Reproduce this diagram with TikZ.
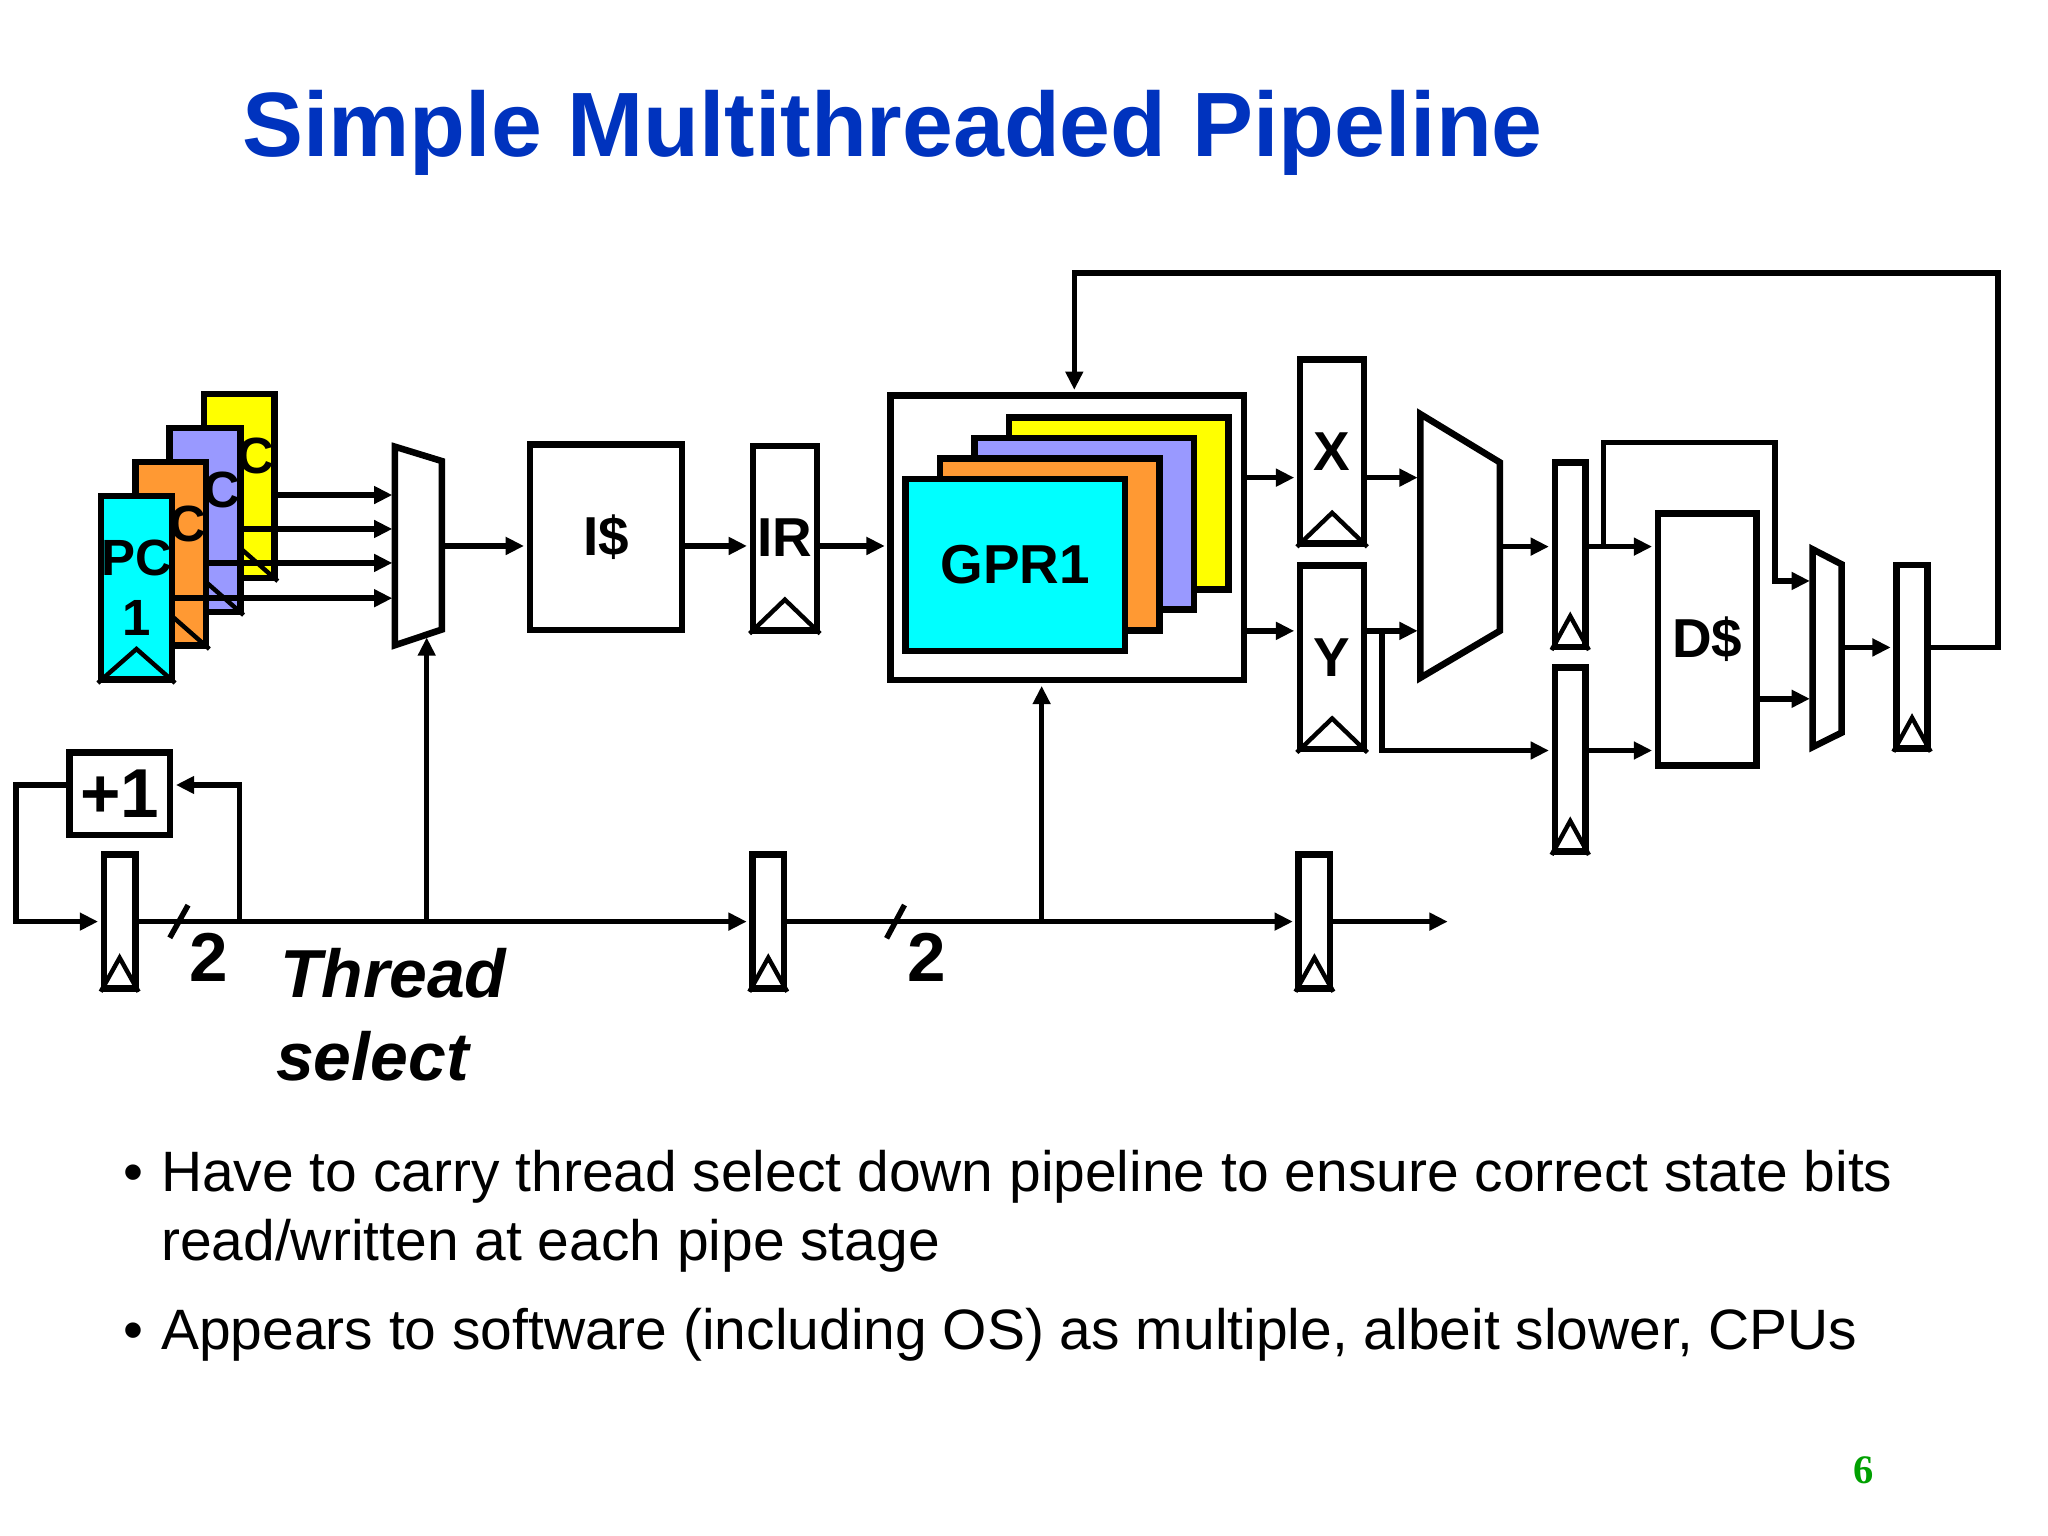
\documentclass[tikz,border=0pt]{standalone}
\usepackage{fontspec}
\setmainfont{Liberation Sans}
\newfontfamily\pnfont{Liberation Serif}
\usetikzlibrary{arrows.meta}
\definecolor{titleblue}{RGB}{0,51,190}
\definecolor{pgreen}{RGB}{0,160,0}
\definecolor{pccyan}{RGB}{0,255,255}
\definecolor{pcorange}{RGB}{255,153,51}
\definecolor{pcblue}{RGB}{153,153,255}
\definecolor{pcyellow}{RGB}{255,255,0}
\newcommand\clkmark[1]{\draw[clk] (#1.south west) -- ([yshift=13pt]#1.south) -- (#1.south east);}
\begin{document}
\begin{tikzpicture}[x=0.5pt,y=-0.5pt,
  box/.style={draw, line width=2.5pt, fill=white, inner sep=0pt, font=\fontsize{21}{25}\selectfont\bfseries},
  pcreg/.style={box, minimum width=25pt, minimum height=70.4pt, align=center, font=\fontsize{19.5}{23}\selectfont\bfseries},
  xreg/.style={box, minimum width=24.5pt, minimum height=70.4pt},
  nreg/.style={box, minimum width=11.8pt, minimum height=70.5pt},
  treg/.style={box, minimum width=12pt, minimum height=51.2pt},
  gprbox/.style={box, minimum width=84.1pt, minimum height=65.75pt},
  muxshape/.style={draw, line width=2.5pt, fill=white, line join=miter},
  wire/.style={line width=2.1pt},
  arr/.style={wire, -{Triangle[length=7pt,width=6.5pt]}, shorten >=1pt},
  clk/.style={line width=1.7pt},
  lbl/.style={inner sep=0pt, font=\fontsize{26.5}{30}\selectfont\bfseries},
  tsel/.style={inner sep=0pt, anchor=base west, font=\fontsize{26}{30}\selectfont\bfseries\itshape},
  bullet/.style={inner sep=0pt, anchor=base west, font=\fontsize{21.8}{26}\selectfont},
  bdot/.style={inner sep=0pt, anchor=base, font=\fontsize{21.8}{26}\selectfont}
]
\fill[white] (0,0) rectangle (1568,1176);
\useasboundingbox (0,0) rectangle (1568,1176);

% title
\node[anchor=base west, inner sep=0pt, text=titleblue, font=\fontsize{35}{42}\selectfont\bfseries] (title) at (185,119.5) {Simple Multithreaded Pipeline};

% PC stack (back to front)
\foreach \i/\c/\x/\y in {4/pcyellow/183.1/372, 3/pcblue/156.9/398, 2/pcorange/130.7/424} {
  \node[pcreg, fill=\c] (pc\i) at (\x,\y) {PC\\\phantom{1}};
  \clkmark{pc\i}
}
\node[pcreg, fill=pccyan] (pc1) at (104.5,450) {PC\\1};
\clkmark{pc1}

% mux 1
\draw[muxshape] (302.4,342) -- (338.3,353) -- (338.3,482) -- (302.4,494) -- cycle;
\coordinate (m1a) at (302.4,379);
\coordinate (m1b) at (302.4,405);
\coordinate (m1c) at (302.4,431);
\coordinate (m1d) at (302.4,458);
\coordinate (m1out) at (338.3,418);
\coordinate (sel1) at (326.7,486);

% I$ and IR
\node[box, minimum width=58.2pt, minimum height=71pt] (icache) at (463.9,411.4) {I\$};
\node[xreg, minimum height=70.6pt] (ir) at (600.9,412) {IR};
\clkmark{ir}

% GPR
\node[box, minimum width=135.35pt, minimum height=108.8pt] (gpr) at (817.25,411.8) {};
\node[gprbox, fill=pcyellow] (gpr4) at (856.5,385.4) {};
\node[gprbox, fill=pcblue] (gpr3) at (830.1,401.1) {};
\node[gprbox, fill=pcorange] (gpr2) at (803.7,416.8) {};
\node[gprbox, fill=pccyan] (gpr1) at (777.3,432.5) {GPR1};

% X, Y
\node[xreg] (xr) at (1019.9,345.75) {X};
\clkmark{xr}
\node[xreg] (yr) at (1019.9,503.2) {Y};
\clkmark{yr}

% ALU
\draw[muxshape] (1087.4,317) -- (1148.3,354) -- (1148.3,483) -- (1087.4,519) -- cycle;
\coordinate (aluX) at (1087.4,365.7);
\coordinate (aluY) at (1087.4,483);
\coordinate (aluout) at (1148.3,418.5);

% pipeline regs after ALU
\node[nreg] (upreg) at (1202.2,424.7) {};
\clkmark{upreg}
\node[nreg] (lowreg) at (1202.2,581.55) {};
\clkmark{lowreg}

% D$
\node[box, minimum width=37.6pt, minimum height=96.4pt] (dcache) at (1307,489.7) {D\$};

% mux 2
\draw[muxshape] (1387.7,420.5) -- (1409.9,432) -- (1409.9,561) -- (1387.7,572) -- cycle;
\coordinate (m2a) at (1387.7,444.8);
\coordinate (m2b) at (1387.7,535);
\coordinate (m2out) at (1409.9,495.7);

% last reg
\node[nreg, minimum height=70.2pt] (lastreg) at (1463.9,502.85) {};
\clkmark{lastreg}

% thread select path
\node[box, minimum width=38.4pt, minimum height=31.65pt, font=\fontsize{26.5}{30}\selectfont\bfseries] (plus) at (91.8,607.75) {+1};
\node[treg] (r1) at (91.6,705.6) {};
\clkmark{r1}
\node[treg] (r2) at (588.2,705.6) {};
\clkmark{r2}
\node[treg] (r3) at (1006.35,705.6) {};
\clkmark{r3}

% row coordinates
\coordinate (rowX) at (0,365.7);
\coordinate (rowY) at (0,483);
\coordinate (rowAlu) at (0,418.5);
\coordinate (rowLow) at (0,574.6);
\coordinate (rowD) at (0,535);
\coordinate (rowOut) at (0,495.7);
\coordinate (loopy) at (0,601);
\coordinate (lft) at (12.3,601);
\coordinate (br1) at (183.2,705.6);
\coordinate (br2) at (797.5,705.6);
\coordinate (tsend) at (1110.4,705.6);
\coordinate (ybr) at (1058,483);
\coordinate (byp) at (1227.6,418.5);
\coordinate (bypc) at (1359,338.9);
\coordinate (fbc) at (1529.8,209);
\coordinate (fbin) at (822.5,303);

% PC -> mux1
\draw[arr] (pc4.east |- m1a) -- (m1a);
\draw[arr] (pc3.east |- m1b) -- (m1b);
\draw[arr] (pc2.east |- m1c) -- (m1c);
\draw[arr] (pc1.east |- m1d) -- (m1d);

% front end
\draw[arr] (m1out) -- (icache.west |- m1out);
\draw[arr] (icache.east |- m1out) -- (ir.west |- m1out);
\draw[arr] (ir.east |- m1out) -- (gpr.west |- m1out);
\draw[arr] (gpr.east |- rowX) -- (xr.west |- rowX);
\draw[arr] (gpr.east |- rowY) -- (yr.west |- rowY);
\draw[arr] (xr.east |- rowX) -- (aluX);
\draw[arr] (yr.east |- rowY) -- (aluY);
\draw[arr] (ybr) |- (lowreg.west |- rowLow);
\draw[arr] (aluout) -- (upreg.west |- rowAlu);
\draw[arr] (upreg.east |- rowAlu) -- (dcache.west |- rowAlu);
\draw[arr] (byp) |- (bypc) |- (m2a);
\draw[arr] (lowreg.east |- rowLow) -- (dcache.west |- rowLow);
\draw[arr] (dcache.east |- rowD) -- (m2b);
\draw[arr] (m2out) -- (lastreg.west |- rowOut);
\draw[arr] (lastreg.east |- rowOut) -| (fbc) -| (gpr.north -| fbin);

% thread select wiring
\draw[arr] (plus.west |- loopy) -- (lft) |- (r1.west);
\draw[arr] (br1) |- (plus.east |- loopy);
\draw[arr] (r1.east) -- (r2.west);
\draw[arr] (sel1 |- r1.east) -- (sel1);
\draw[arr] (r2.east) -- (r3.west);
\draw[arr] (br2) -- (br2 |- gpr.south);
\draw[arr] (r3.east) -- (tsend);

% width slashes
\draw[wire] (130,718) -- (144,693);
\draw[wire] (678.8,718.4) -- (692.5,692.9);
\node[lbl, anchor=base] (w1) at (160.2,751.6) {2};
\node[lbl, anchor=base] (w2) at (709.5,751.6) {2};
\node[tsel] (ts1) at (214,764) {Thread};
\node[tsel] (ts2) at (211,827) {select};

% bullets
\node[bdot] (b1) at (102,912.4) {•};
\node[bullet] (t1) at (123,912.4) {Have to carry thread select down pipeline to ensure correct state bits};
\node[bullet] (t1b) at (123,964.7) {read/written at each pipe stage};
\node[bdot] (b2) at (102,1033) {•};
\node[bullet] (t2) at (123,1033) {Appears to software (including OS) as multiple, albeit slower, CPUs};

% page number
\node[anchor=base, inner sep=0pt, text=pgreen, font=\pnfont\fontsize{15.5}{18}\selectfont\bfseries] (pnum) at (1427,1136) {6};
\end{tikzpicture}
\end{document}
